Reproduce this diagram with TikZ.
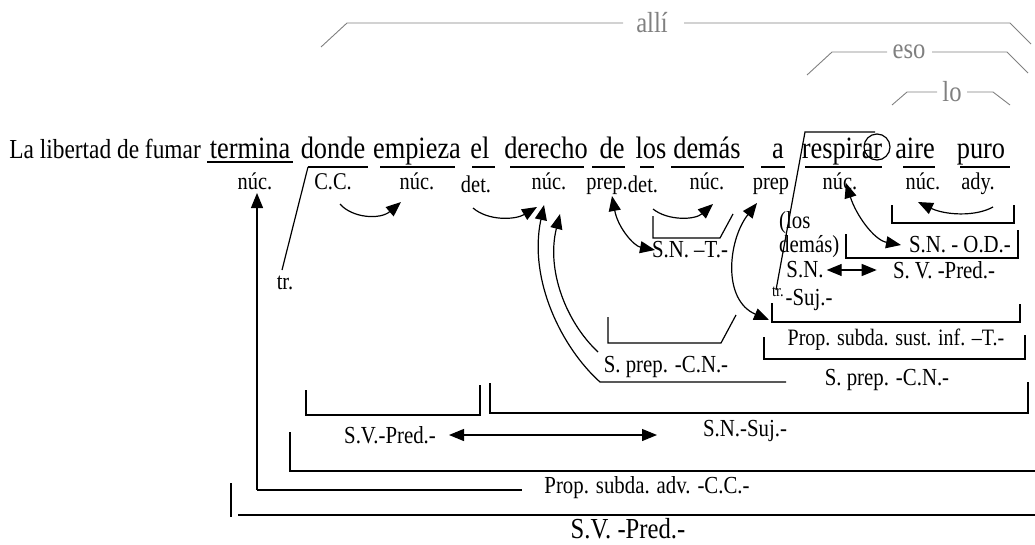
\documentclass[tikz,border=0pt]{standalone}
\usepackage{fontspec}
\setmainfont{Liberation Serif}[FakeStretch=0.85]
\usetikzlibrary{arrows.meta}
\definecolor{refgray}{gray}{0.5}
\begin{document}
\begin{tikzpicture}[x=1pt,y=-1pt,
  word/.style={font=\fontsize{31}{33}\selectfont,inner sep=0pt,anchor=base},
  lab/.style={font=\fontsize{24}{26}\selectfont,inner sep=0pt,anchor=base},
  syn/.style={font=\fontsize{24.5}{27}\selectfont,inner sep=0pt},
  small/.style={font=\fontsize{17}{19}\selectfont,inner sep=0pt},
  ref/.style={font=\fontsize{29}{31}\selectfont,text=refgray,inner sep=0pt},
  rline/.style={draw=refgray,line width=0.9pt},
  bar/.style={line width=1.3pt},
  brk/.style={line width=1.2pt},
  arr/.style={line width=1.2pt,-{Triangle[length=15pt,width=12pt]}},
  darr/.style={line width=1.2pt,{Triangle[length=15pt,width=12pt]}-{Triangle[length=15pt,width=12pt]}},
]
\useasboundingbox (0,0) rectangle (1035,544);

% pronoun references over the sentence
\node[ref] (alli) at (652,23) {allí};
\node[ref] (eso) at (909,52) {eso};
\node[ref] (lo) at (952,92) {lo};
\draw[rline] (321,47) -- (347,23) -- (623,23);
\draw[rline] (684,23) -- (1010,23) -- (1031,44);
\draw[rline] (807,75) -- (832,52) -- (887,52);
\draw[rline] (932,52) -- (1007,52) -- (1028,73);
\draw[rline] (892,105) -- (907,92) -- (937,92);
\draw[rline] (967,92) -- (993,92) -- (1010,105);

% the sentence
\node[word,font=\fontsize{27.5}{29}\selectfont,anchor=base east] (lead) at (201,158) {La libertad de fumar};
\node[word] (termina) at (250,158) {termina};
\node[word] (donde) at (333,158) {donde};
\node[word] (empieza) at (417,158) {empieza};
\node[word] (el) at (480,158) {el};
\node[word] (derecho) at (546,158) {derecho};
\node[word] (de) at (612,158) {de};
\node[word] (los) at (651,158) {los};
\node[word] (demas) at (707,158) {demás};
\node[word] (a) at (778,158) {a};
\node[word] (respirar) at (842,158) {respirar};
\node[word] (aire) at (915,158) {aire};
\node[word] (puro) at (981,158) {puro};
\draw[line width=1.2pt] (877,147) circle (13pt);

% word bars
\draw[bar] (207,162) -- (293,162);
\draw[bar] (308,167) -- (368,167);
\draw[bar] (380,167) -- (455,167);
\draw[bar] (472,167) -- (495,167);
\draw[bar] (510,167) -- (584,167);
\draw[bar] (592,167) -- (625,167);
\draw[bar] (640,167) -- (654,167);
\draw[bar] (671,167) -- (744,167);
\draw[bar] (761,167) -- (785,167);
\draw[bar] (805,167) -- (882,167);
\draw[bar] (903,167) -- (935,167);
\draw[bar] (960,167) -- (1010,167);

% functions of the words
\node[lab] (n1) at (255,189) {núc.};
\node[lab] (cc) at (333,189) {C.C.};
\node[lab] (n2) at (417,189) {núc.};
\node[lab] (det1) at (476,192) {det.};
\node[lab] (n3) at (549,189) {núc.};
\node[lab] (prep1) at (607,189) {prep.};
\node[lab] (det2) at (643,192) {det.};
\node[lab] (n4) at (707,189) {núc.};
\node[lab] (prep2) at (771,189) {prep};
\node[lab] (n5) at (840,189) {núc.};
\node[lab] (n6) at (923,189) {núc.};
\node[lab] (ady) at (978,189) {ady.};

% transpositors
\draw[brk] (282,270) -- (308,167);
\node[lab,anchor=center] (tr1) at (285,283) {tr.};
\draw[brk] (776,290) -- (805,132) -- (875,132);
\node[small] (tr2) at (778,292) {tr.};

% phrase labels
\node[syn] (snt) at (690,250) {S.N. –T.-};
\node[syn] (cnl) at (666,367) {S. prep. -C.N.-};
\node[syn,anchor=west] (los2) at (779,223) {(los};
\node[syn,anchor=west] (dem2) at (779,247) {demás)};
\node[syn] (snod) at (960,245) {S.N. - O.D.-};
\node[syn] (sn) at (805,270) {S.N.};
\node[syn] (svp) at (944,270) {S. V. -Pred.-};
\node[syn] (suj) at (809,300) {-Suj.-};
\node[syn,font=\fontsize{23.5}{26}\selectfont] (pss) at (896,340) {Prop. subda. sust. inf. –T.-};
\node[syn] (cnr) at (887,380) {S. prep. -C.N.-};
\node[syn] (svp2) at (390,435) {S.V.-Pred.-};
\node[syn] (snsuj) at (745,431) {S.N.-Suj.-};
\node[syn] (psa) at (647,488) {Prop. subda. adv. -C.C.-};
\node[syn,font=\fontsize{29}{31}\selectfont] (svfin) at (628,529) {S.V. -Pred.-};

% brackets
\draw[brk] (653,216) -- (653,238) -- (720,238) -- (733,214);
\draw[brk] (892,205) -- (892,223) -- (1014,223) -- (1014,205);
\draw[brk] (846,234) -- (846,258) -- (1018,258) -- (1018,230);
\draw[brk] (772,303) -- (772,322) -- (1020,322) -- (1020,304);
\draw[brk] (764,337) -- (764,359) -- (1025,359) -- (1025,335);
\draw[brk] (608,317) -- (608,343) -- (721,343) -- (736,315);
\draw[brk] (306,390) -- (306,415) -- (480,415) -- (480,385);
\draw[brk] (490,383) -- (490,413) -- (1028,413) -- (1028,382);
\draw[brk] (290,432) -- (290,471) -- (1035,471);
\draw[brk] (257,490) -- (522,490);
\draw[brk] (231,483) -- (231,517);
\draw[brk] (238,515) -- (1035,515);

% dependency arrows
\draw[arr] (340,204) .. controls (352,218) and (380,220) .. (401,202);
\draw[arr] (473,208) .. controls (488,221) and (515,220) .. (537,207);
\draw[arr] (786,382) -- (600,382) .. controls (562,348) and (528,280) .. (544,205);
\draw[arr] (598,352) .. controls (566,322) and (546,270) .. (560,214);
\draw[darr] (612,196) .. controls (618,228) and (634,246) .. (655,250);
\draw[arr] (653,209) .. controls (668,221) and (695,220) .. (713,204);
\draw[darr] (757,203) .. controls (728,240) and (722,300) .. (769,320);
\draw[darr] (846,183) .. controls (856,215) and (874,240) .. (901,245);
\draw[arr] (993,207) .. controls (975,217) and (945,215) .. (918,202);
\draw[darr] (sn.east) ++(3,0) -- ++(50,0);
\draw[darr] (449,435) -- (657,435);
\draw[arr] (257,490) -- (257,193);
\end{tikzpicture}
\end{document}
